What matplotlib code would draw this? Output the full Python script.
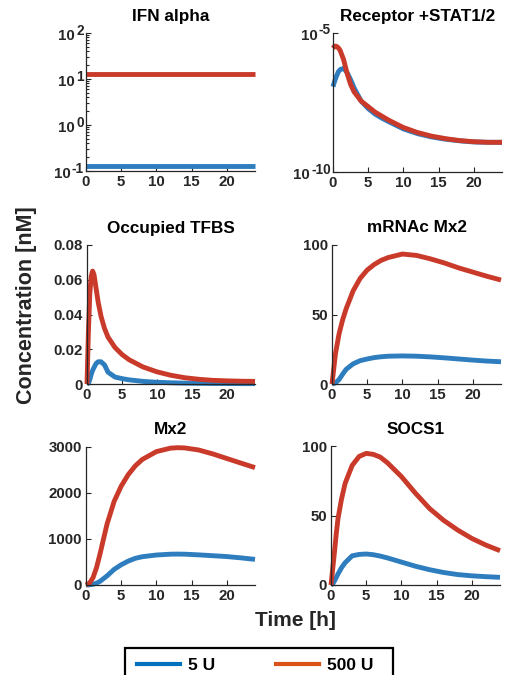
import matplotlib
matplotlib.use("Agg")
import matplotlib.pyplot as plt
from matplotlib.lines import Line2D
from matplotlib.patches import Rectangle
from matplotlib.transforms import blended_transform_factory, offset_copy
from matplotlib.ticker import FixedLocator, NullLocator, NullFormatter, LogLocator

plt.rcParams['font.family'] = ['Liberation Sans', 'DejaVu Sans']
plt.rcParams['font.weight'] = 'bold'

# ---- simulated trajectories (time in hours, concentration in nM) ----
doses = ["5 U", "500 U"]

ifn_t = [0, 24]
ifn_5 = [0.129, 0.129]
ifn_500 = [12.9, 12.9]

rec_t = [0, 0.25, 0.5, 0.75, 1, 1.5, 2, 2.5, 3, 4, 5, 6, 7, 8, 10, 12, 14, 16, 18, 20, 22, 24]
rec_5 = [1.17e-7, 1.91e-7, 2.82e-7, 3.98e-7, 4.79e-7, 5.37e-7, 3.80e-7, 2.09e-7, 1.05e-7,
         3.55e-8, 1.91e-8, 1.20e-8, 8.5e-9, 6.3e-9, 3.55e-9, 2.40e-9, 1.82e-9, 1.51e-9,
         1.32e-9, 1.20e-9, 1.17e-9, 1.17e-9]
rec_500 = [2.82e-6, 3.39e-6, 3.31e-6, 2.95e-6, 2.40e-6, 1.12e-6, 3.55e-7, 1.41e-7, 7.6e-8,
           3.55e-8, 2.24e-8, 1.41e-8, 1.0e-8, 7.1e-9, 3.98e-9, 2.63e-9, 1.95e-9, 1.58e-9,
           1.35e-9, 1.23e-9, 1.17e-9, 1.17e-9]

tfbs_t = [0, 0.2, 0.4, 0.6, 0.8, 1.0, 1.3, 1.6, 2.0, 2.5, 3.0, 4.0, 5.0, 6.0, 8.0, 10, 12, 14, 16, 18, 20, 22, 24]
tfbs_5 = [0, 0.0005, 0.0025, 0.0055, 0.0078, 0.0095, 0.0118, 0.0128, 0.0128, 0.011, 0.0068,
          0.0040, 0.0031, 0.0024, 0.0015, 0.0010, 0.0007, 0.0005, 0.0004, 0.0003, 0.00025,
          0.0002, 0.0002]
tfbs_500 = [0, 0.030, 0.052, 0.062, 0.065, 0.063, 0.055, 0.047, 0.039, 0.032, 0.027, 0.021,
            0.017, 0.014, 0.0098, 0.0070, 0.0050, 0.0036, 0.0027, 0.0021, 0.0018, 0.0016, 0.0015]

mrna_t = [0, 0.5, 1, 1.5, 2, 3, 4, 5, 6, 7, 8, 10, 12, 14, 16, 18, 20, 22, 24]
mrna_5 = [0, 0.8, 3.2, 7, 10.5, 14.5, 16.8, 18, 19, 19.6, 20, 20.2, 20, 19.5, 18.8, 18.0, 17.2, 16.5, 16]
mrna_500 = [0, 22, 36, 46, 54, 67, 76, 82, 86, 89, 91, 93.5, 92.5, 90, 87, 83.5, 80.5, 77.5, 74.8]

mx2_t = [0, 0.5, 1, 1.5, 2, 2.5, 3, 4, 5, 6, 7, 8, 10, 12, 13, 14, 16, 18, 20, 22, 24]
mx2_5 = [0, 3, 15, 40, 80, 140, 200, 340, 440, 520, 580, 615, 652, 670, 672, 670, 655, 637, 618, 590, 557]
mx2_500 = [0, 40, 160, 380, 680, 1010, 1330, 1820, 2150, 2400, 2590, 2730, 2900, 2975, 2985, 2980,
           2935, 2850, 2750, 2650, 2552]

socs_t = [0, 0.25, 0.5, 0.75, 1, 1.5, 2, 3, 4, 5, 6, 7, 8, 10, 12, 14, 16, 18, 20, 22, 24]
socs_5 = [0, 0.8, 3, 5.5, 8, 12.5, 16, 21, 22, 22.3, 21.8, 20.8, 19.5, 16.5, 13.5, 11, 9, 7.5, 6.6, 6, 5.5]
socs_500 = [0, 12, 24, 37, 48, 62, 73, 86, 92.5, 94.7, 94, 92, 88, 78, 66, 55, 46.5, 39.5, 33.5, 28.7, 24.7]

xticks = [0, 5, 10, 15, 20]
ifn_exponents = [-1, 0, 1, 2]
rec_exponents = [-10, -5]

# ---- styling ----
W, H = 508, 675
C_LOW, C_HIGH = '#2E7DBF', '#C93A2A'
LEG_LOW, LEG_HIGH = '#0072BD', '#D95319'
AX_COL = '#262626'
LW = 3.5
TICK_FS = 10.8
PX = 0.72  # points per pixel at 100 dpi

fig = plt.figure(figsize=(W / 100, H / 100), dpi=100)


def add_axes(left, top, right, bottom):
    return fig.add_axes([left / W, 1 - bottom / H, (right - left) / W, (bottom - top) / H])


def style(ax, title):
    for s in ('top', 'right'):
        ax.spines[s].set_visible(False)
    for s in ('left', 'bottom'):
        ax.spines[s].set_color(AX_COL)
        ax.spines[s].set_linewidth(0.9)
    ax.tick_params(axis='both', which='both', direction='in', colors=AX_COL,
                   labelsize=TICK_FS, width=0.8, pad=3)
    ax.tick_params(which='major', length=3.5)
    ax.tick_params(which='minor', length=2)
    ax.set_xlim(0, 24)
    ax.set_xticks(xticks)
    ax.set_title(title, fontsize=12.3, fontweight='bold', color='black', pad=9)


def power_labels(ax, exponents):
    """Write '10' with a raised exponent beside each decade tick."""
    ax.yaxis.set_major_formatter(NullFormatter())
    renderer = fig.canvas.get_renderer()
    base = blended_transform_factory(ax.transAxes, ax.transData)
    for e in exponents:
        v = 10.0 ** e
        ex = ax.text(0, v, f'-{abs(e)}' if e < 0 else f'{e}',
                     transform=offset_copy(base, fig, x=-2 * PX, y=2.5 * PX, units='points'),
                     ha='right', va='center', fontsize=9.8, fontweight='bold', color=AX_COL)
        w = ex.get_window_extent(renderer).width
        ax.text(0, v, '10',
                transform=offset_copy(base, fig, x=-(2 + w + 1.5) * PX, y=-3 * PX, units='points'),
                ha='right', va='center', fontsize=TICK_FS, fontweight='bold', color=AX_COL)


panels = [
    ("IFN alpha", (86, 33, 255, 171), ifn_t, ifn_5, ifn_500),
    ("Receptor +STAT1/2", (333, 33, 502, 172), rec_t, rec_5, rec_500),
    ("Occupied TFBS", (87, 245, 255, 384), tfbs_t, tfbs_5, tfbs_500),
    ("mRNAc Mx2", (332, 245, 501, 384), mrna_t, mrna_5, mrna_500),
    ("Mx2", (86, 447, 255, 585), mx2_t, mx2_5, mx2_500),
    ("SOCS1", (331, 446, 500, 585), socs_t, socs_5, socs_500),
]

axes = []
for title, box, t, low, high in panels:
    ax = add_axes(*box)
    ax.plot(t, low, color=C_LOW, lw=LW, solid_capstyle='butt', solid_joinstyle='round', clip_on=False)
    ax.plot(t, high, color=C_HIGH, lw=LW, solid_capstyle='butt', solid_joinstyle='round', clip_on=False)
    axes.append(ax)
    style(ax, title)

# IFN alpha: log scale from 1e-1 to 1e2
ax = axes[0]
ax.set_yscale('log')
ax.set_ylim(1e-1, 1e2)
ax.yaxis.set_major_locator(FixedLocator([10.0 ** e for e in ifn_exponents]))
ax.yaxis.set_minor_locator(LogLocator(base=10, subs=range(2, 10)))
ax.yaxis.set_minor_formatter(NullFormatter())

# Receptor complex: log scale from 1e-10 to 1e-5
ax = axes[1]
ax.set_yscale('log')
ax.set_ylim(1e-10, 1e-5)
ax.yaxis.set_major_locator(FixedLocator([10.0 ** e for e in rec_exponents]))
ax.yaxis.set_minor_locator(NullLocator())
ax.yaxis.set_minor_formatter(NullFormatter())

axes[2].set_ylim(0, 0.08)
axes[2].set_yticks([0, 0.02, 0.04, 0.06, 0.08])
axes[2].set_yticklabels(['0', '0.02', '0.04', '0.06', '0.08'])
axes[3].set_ylim(0, 100)
axes[3].set_yticks([0, 50, 100])
axes[4].set_ylim(0, 3000)
axes[4].set_yticks([0, 1000, 2000, 3000])
axes[5].set_ylim(0, 100)
axes[5].set_yticks([0, 50, 100])

for ax in axes:
    for lab in ax.get_xticklabels() + ax.get_yticklabels():
        lab.set_fontweight('bold')
        lab.set_fontsize(TICK_FS)

power_labels(axes[0], ifn_exponents)
power_labels(axes[1], rec_exponents)

fig.text(27 / W, 1 - 305 / H, 'Concentration [nM]', rotation=90, ha='center', va='center',
         fontsize=15.5, fontweight='bold', color=AX_COL)
fig.text(295 / W, 1 - 620 / H, 'Time [h]', ha='center', va='center',
         fontsize=15, fontweight='bold', color=AX_COL)

# legend with a plain rectangular frame running off the lower edge
handles = [Line2D([], [], color=LEG_LOW, lw=3), Line2D([], [], color=LEG_HIGH, lw=3)]
fig.legend(handles, doses, loc='upper left', bbox_to_anchor=(128 / W, 1 - 649 / H),
           ncol=2, frameon=False, prop={'weight': 'bold', 'size': 12.5},
           handlelength=2.5, handletextpad=0.45, columnspacing=3.5,
           borderpad=0.5, borderaxespad=0)
fig.patches.append(Rectangle((125 / W, -0.01), (393 - 125) / W, 0.01 + (675 - 648) / H,
                             transform=fig.transFigure, fill=False, edgecolor='black',
                             linewidth=1.6, clip_on=False))

fig.savefig('out.png', dpi=100)
